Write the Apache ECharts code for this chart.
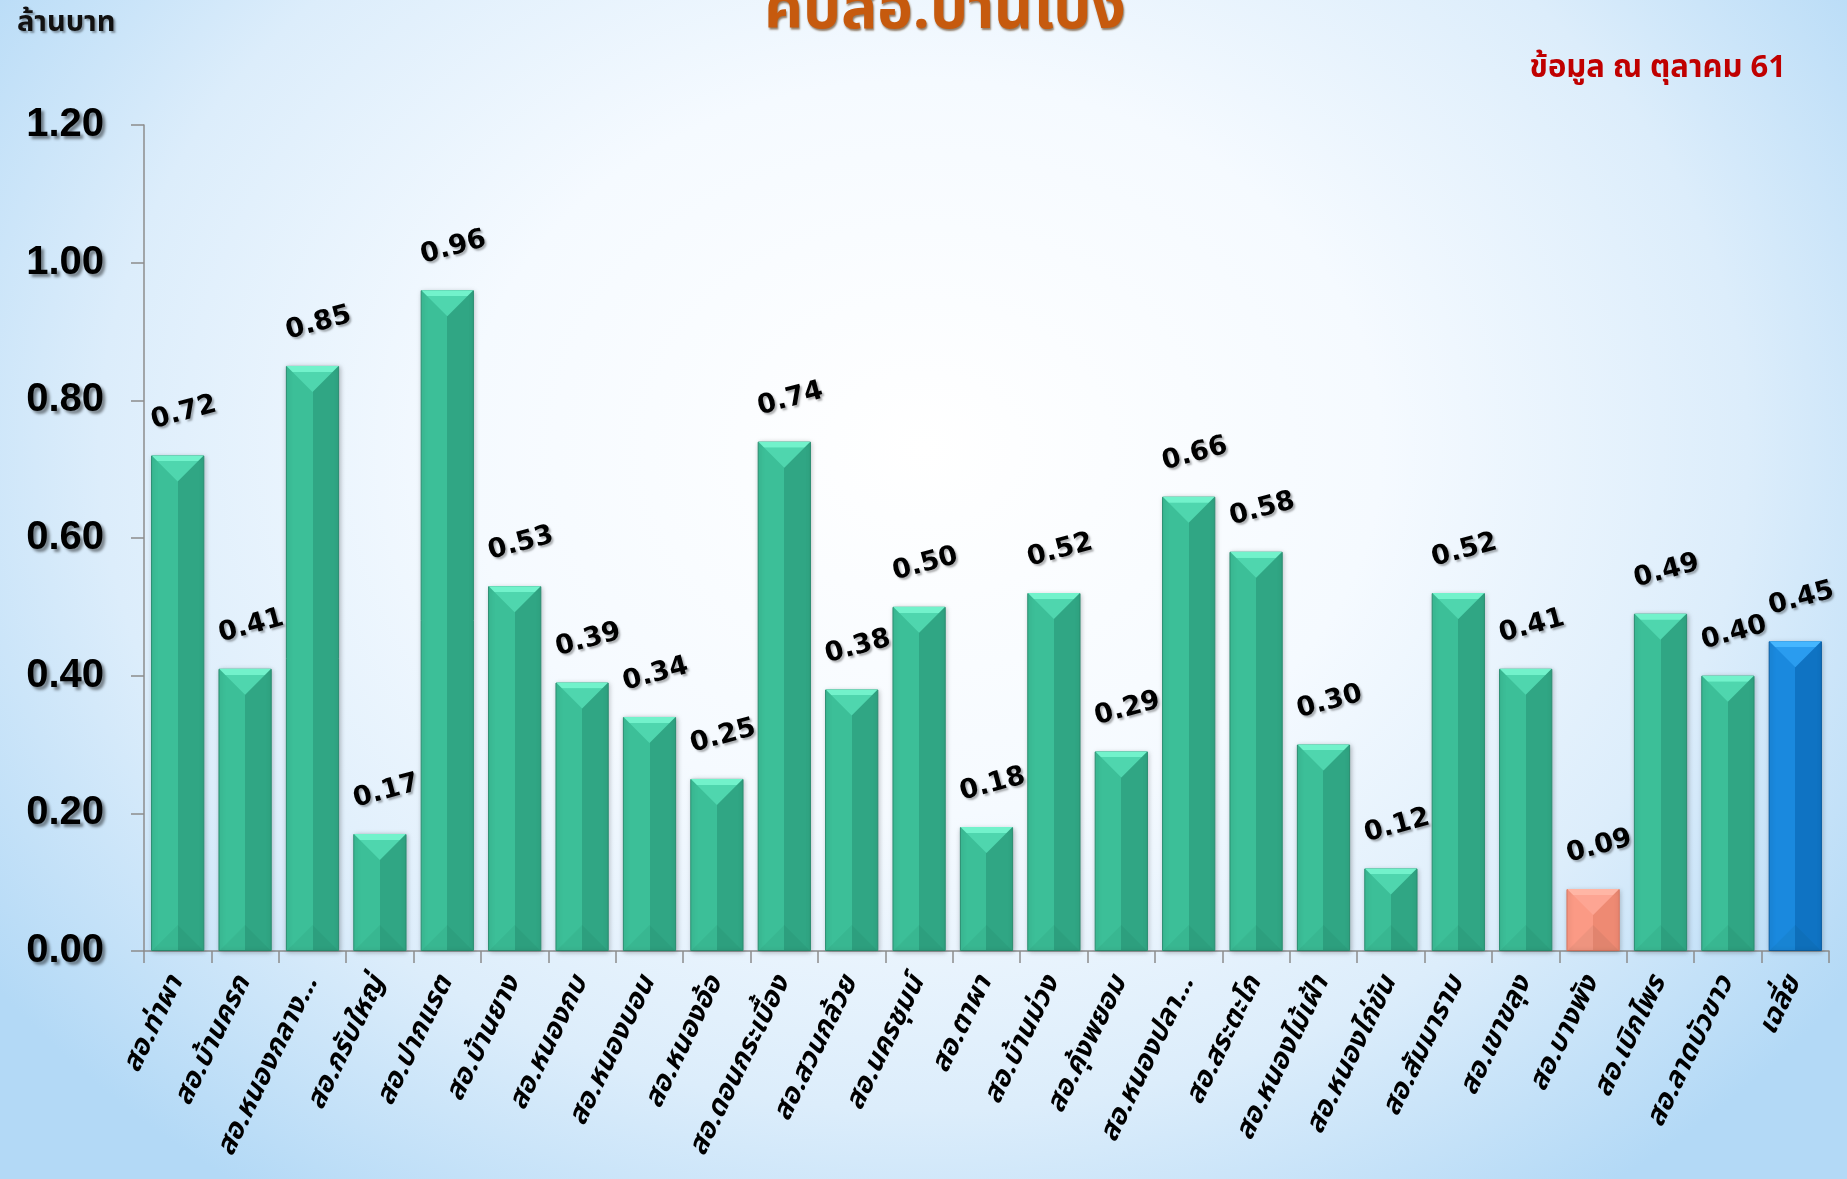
<!DOCTYPE html>
<html>
<head>
<meta charset="utf-8">
<script src="https://cdn.jsdelivr.net/npm/echarts@6/dist/echarts.min.js"></script>
<style>
  html, body { margin: 0; padding: 0; }
  body {
    width: 1847px;
    height: 1179px;
    background: radial-gradient(ellipse 62% 78% at 50% 38%, #ffffff 0%, #f5faff 40%, #dcedfb 72%, #b3d9f6 100%);
  }
  #chart { width: 1847px; height: 1179px; }
</style>
</head>
<body>
<div id="chart"></div>
<script>
  // ชื่อ สอ. (หมวดหมู่แกน x)
  const categories = [
    'สอ.ท่าผา', 'สอ.บ้านครก', 'สอ.หนองกลาง...', 'สอ.กรับใหญ่', 'สอ.ปากแรต',
    'สอ.บ้านยาง', 'สอ.หนองกบ', 'สอ.หนองบอน', 'สอ.หนองอ้อ', 'สอ.ดอนกระเบื้อง',
    'สอ.สวนกล้วย', 'สอ.นครชุมน์', 'สอ.ตาผา', 'สอ.บ้านม่วง', 'สอ.คุ้งพยอม',
    'สอ.หนองปลา...', 'สอ.สระตะโก', 'สอ.หนองไม้เฝ้า', 'สอ.หนองไก่ขัน', 'สอ.สัมมาราม',
    'สอ.เขาขลุง', 'สอ.บางพัง', 'สอ.เบิกไพร', 'สอ.ลาดบัวขาว', 'เฉลี่ย'
  ];
  // ล้านบาท
  const values = [
    0.72, 0.41, 0.85, 0.17, 0.96,
    0.53, 0.39, 0.34, 0.25, 0.74,
    0.38, 0.50, 0.18, 0.52, 0.29,
    0.66, 0.58, 0.30, 0.12, 0.52,
    0.41, 0.09, 0.49, 0.40, 0.45
  ];
  const yTicks = [0, 0.2, 0.4, 0.6, 0.8, 1.0, 1.2];

  const lowIndex = 21;  // สอ.บางพัง
  const avgIndex = 24;  // เฉลี่ย

  const thaiFont = '"Noto Sans Thai", "Noto Serif Thai", "Tahoma", "DejaVu Sans", sans-serif';

  function sideFill(light, dark) {
    return new echarts.graphic.LinearGradient(0, 0, 1, 0, [
      { offset: 0, color: light },
      { offset: 0.5, color: light },
      { offset: 0.5, color: dark },
      { offset: 1, color: dark }
    ]);
  }
  function capFill(top, bottom) {
    return new echarts.graphic.LinearGradient(0, 0, 0, 1, [
      { offset: 0, color: top },
      { offset: 0.22, color: top },
      { offset: 0.23, color: bottom },
      { offset: 1, color: bottom }
    ]);
  }

  const palette = {
    green: { light: '#3cbf98', dark: '#30a684', border: '#2a8d70', capTop: '#72f2cb', capBot: '#4fd6ae' },
    red: { light: '#fb9a85', dark: '#ee8a73', border: '#d8735d', capTop: '#ffb6a5', capBot: '#fda593' },
    blue: { light: '#1a89de', dark: '#0f73c3', border: '#0b5ea3', capTop: '#45b6ff', capBot: '#2a9cef' }
  };
  function colorsFor(i) {
    if (i === lowIndex) return palette.red;
    if (i === avgIndex) return palette.blue;
    return palette.green;
  }

  const barData = values.map((v, i) => {
    const c = colorsFor(i);
    return {
      value: v,
      itemStyle: {
        color: sideFill(c.light, c.dark),
        borderColor: c.border,
        borderWidth: 1,
        shadowColor: 'rgba(0,0,0,0.25)',
        shadowBlur: 5,
        shadowOffsetX: 1,
        shadowOffsetY: 1
      }
    };
  });
  const capData = values.map((v, i) => {
    const c = colorsFor(i);
    return { value: v, itemStyle: { color: capFill(c.capTop, c.capBot) } };
  });
  const baseData = values.map(v => ({ value: v, itemStyle: { color: 'rgba(0,40,20,0.05)' } }));

  const chart = echarts.init(document.getElementById('chart'));
  const option = {
    backgroundColor: 'transparent',
    animation: false,
    title: [
      {
        text: 'คปสอ.บ้านโป่ง',
        left: 940,
        top: -19,
        textAlign: 'center',
        textStyle: {
          fontFamily: thaiFont,
          fontSize: 60,
          fontWeight: 'bold',
          color: '#c65a0e',
          textShadowColor: 'rgba(80,40,0,0.6)',
          textShadowBlur: 2,
          textShadowOffsetX: 1,
          textShadowOffsetY: 2
        }
      },
      {
        text: 'ล้านบาท',
        left: 12,
        top: 6,
        textStyle: {
          fontFamily: thaiFont,
          fontSize: 29,
          fontWeight: 'bold',
          color: '#111',
          textShadowColor: 'rgba(0,0,0,0.35)',
          textShadowBlur: 2,
          textShadowOffsetX: 2,
          textShadowOffsetY: 2
        }
      },
      {
        text: 'ข้อมูล ณ ตุลาคม 61',
        right: 56,
        top: 50,
        textStyle: {
          fontFamily: thaiFont,
          fontSize: 31,
          fontWeight: 'bold',
          color: '#c00000'
        }
      }
    ],
    grid: {
      left: 144,
      right: 18,
      top: 125,
      bottom: 228,
      containLabel: false
    },
    xAxis: {
      type: 'category',
      data: categories,
      axisLine: { lineStyle: { color: '#8c8c8c', width: 1.5 } },
      axisTick: { show: true, length: 12, lineStyle: { color: '#8c8c8c', width: 1.5 } },
      axisLabel: {
        interval: 0,
        rotate: 64,
        margin: 28,
        fontFamily: thaiFont,
        fontSize: 28,
        fontWeight: 'bold',
        fontStyle: 'italic',
        color: '#000'
      }
    },
    yAxis: {
      type: 'value',
      min: yTicks[0],
      max: yTicks[yTicks.length - 1],
      interval: 0.2,
      splitLine: { show: false },
      axisLine: { show: true, lineStyle: { color: '#8c8c8c', width: 1.5 } },
      axisTick: { show: true, length: 13, lineStyle: { color: '#8c8c8c', width: 1.5 } },
      axisLabel: {
        margin: 40,
        formatter: v => v.toFixed(2),
        fontFamily: '"Liberation Sans", Arial, sans-serif',
        fontSize: 40,
        fontWeight: 'bold',
        color: '#000',
        textShadowColor: 'rgba(0,0,0,0.45)',
        textShadowBlur: 3,
        textShadowOffsetX: 3,
        textShadowOffsetY: 3
      }
    },
    series: [
      {
        name: 'ล้านบาท',
        type: 'bar',
        data: barData,
        barCategoryGap: '21%',
        z: 2,
        label: {
          show: true,
          position: 'top',
          distance: 27,
          offset: [10, 0],
          rotate: 15,
          formatter: p => p.value.toFixed(2),
          fontFamily: '"DejaVu Sans", sans-serif',
          fontSize: 27,
          fontWeight: 'bold',
          color: '#000',
          textShadowColor: 'rgba(0,0,0,0.3)',
          textShadowBlur: 2,
          textShadowOffsetX: 2,
          textShadowOffsetY: 2
        }
      },
      {
        name: 'cap',
        type: 'pictorialBar',
        data: capData,
        symbol: 'path://M0,0 L100,0 L50,48 Z',
        symbolSize: [52, 26],
        symbolPosition: 'end',
        symbolOffset: [0, 0],
        silent: true,
        z: 3
      },
      {
        name: 'base',
        type: 'pictorialBar',
        data: baseData,
        symbol: 'path://M50,0 L100,48 L0,48 Z',
        symbolSize: [52, 26],
        symbolPosition: 'start',
        symbolOffset: [0, 0],
        silent: true,
        z: 3
      }
    ]
  };
  chart.setOption(option);
</script>
</body>
</html>
